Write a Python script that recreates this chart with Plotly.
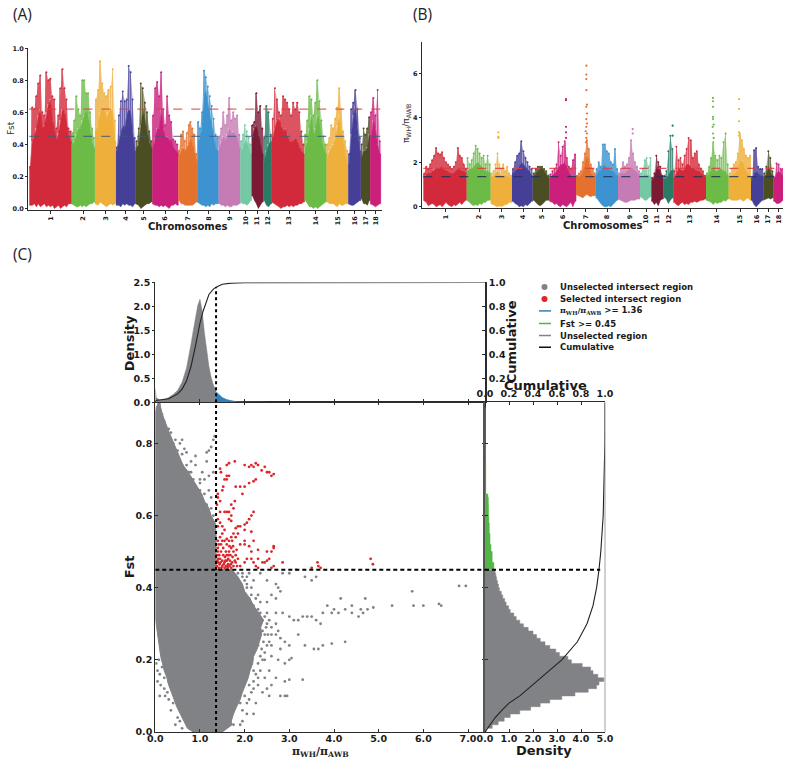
import plotly.graph_objects as go

chrom_names = ["1","2","3","4","5","6","7","8","9","10","11","12","13","14","15","16","17","18"]
chrom_colors = ["#d22a3b","#6cbb47","#eeb03a","#463f98","#4b4e22","#cb1f7c","#e4722e","#3c93cf","#c57cb4","#74c8a4",
                "#7a1a35","#2a7a66","#d22a3b","#6cbb47","#eeb03a","#463f98","#4b4e22","#cb1f7c"]

# Panel A
a_edges = [88,215,285,348,407,457,535,592,656,721,755,790,816,914,980,1045,1083,1111,1143]
a_ticks = [152,250,318,378,432,496,564,626,690,738,772,805,868,948,1014,1065,1097,1127]
a_peak = [
 [.26,.63,.62,.70,.78,.83,.60,.58,.85,.80,.81,.70,.68,.50,.58,.75,.87,.75,.68,.50,.48],
 [.47,.55,.70,.62,.58,.80,.80,.72,.72,.60,.50,.44],
 [.68,.74,.92,.78,.72,.70,.74,.76,.87,.55],
 [.38,.58,.67,.73,.67,.68,.89,.85,.68,.44],
 [.42,.50,.78,.75,.66,.60,.48,.42],
 [.58,.75,.79,.70,.85,.62,.52,.70,.58,.54,.43,.42,.40],
 [.36,.46,.48,.42,.47,.52,.54,.50,.46,.34],
 [.54,.50,.60,.86,.82,.76,.70,.64,.56,.46,.44],
 [.45,.50,.60,.52,.58,.69,.55,.60,.56,.58,.46],
 [.42,.46,.52,.48,.44,.40],
 [.52,.54,.72,.60,.64,.50],
 [.44,.64,.60,.46],
 [.56,.75,.68,.60,.58,.70,.68,.66,.62,.58,.66,.62,.66,.60,.48,.40],
 [.46,.55,.70,.68,.58,.66,.80,.67,.55,.45,.40],
 [.40,.44,.52,.50,.56,.63,.75,.62,.48,.42,.36],
 [.34,.62,.66,.74,.62,.44],
 [.40,.50,.46,.50,.57],
 [.60,.69,.58,.74,.42]]
a_solid = [
 [.25,.42,.45,.50,.58,.62,.50,.52,.60,.65,.68,.55,.50,.42,.47,.55,.62,.60,.52,.46,.42],
 [.40,.42,.46,.50,.50,.55,.58,.62,.58,.50,.42,.38],
 [.48,.52,.60,.62,.62,.56,.60,.62,.60,.42],
 [.36,.42,.47,.52,.50,.58,.62,.60,.48,.36],
 [.38,.40,.52,.62,.55,.48,.42,.38],
 [.38,.44,.50,.50,.62,.50,.44,.45,.42,.44,.38,.37,.35],
 [.32,.36,.38,.36,.38,.40,.44,.40,.36,.30],
 [.42,.44,.52,.70,.74,.66,.58,.52,.46,.38,.36],
 [.38,.42,.45,.42,.46,.50,.46,.48,.46,.45,.38],
 [.36,.38,.42,.42,.38,.34],
 [.45,.50,.52,.46,.42,.34],
 [.30,.36,.40,.42],
 [.44,.50,.55,.56,.52,.48,.50,.46,.42,.42,.42,.44,.42,.38,.36,.34],
 [.38,.42,.50,.58,.45,.50,.58,.55,.42,.38,.34],
 [.32,.36,.38,.40,.44,.52,.58,.50,.42,.35,.28],
 [.28,.46,.58,.64,.52,.36],
 [.32,.36,.36,.38,.46],
 [.44,.55,.50,.40,.34]]
a_low = [
 [.02,.02,.03,.01,.03,.01,.02,.03,.01,.02,.01,.02,.00,.01,.02,.00,.01,.02,.01,.03,.03],
 [.03,.02,.01,.01,.02,.01,.02,.01,.02,.03,.03,.04],
 [.03,.02,.04,.03,.02,.01,.02,.03,.02,.03],
 [.02,.02,.01,.03,.02,.03,.02,.02,.01,.03],
 [.03,.02,.00,.01,.02,.03,.03,.04],
 [.03,.02,.02,.01,.02,.01,.02,.01,.00,.02,.02,.03,.02],
 [.05,.03,.03,.02,.02,.02,.02,.02,.03,.04],
 [.04,.03,.02,.02,.01,.02,.01,.03,.02,.03,.03],
 [.03,.02,.02,.01,.02,.01,.01,.02,.02,.02,.03],
 [.04,.03,.03,.02,.03,.05],
 [.08,.05,.03,.00,.02,.04],
 [.05,.02,.01,.03],
 [.04,.03,.02,.01,.00,.01,.01,.02,.01,.02,.01,.02,.02,.03,.03,.04],
 [.05,.03,.01,.01,.00,.01,.00,.01,.02,.03,.04],
 [.04,.03,.03,.03,.02,.01,.03,.02,.02,.03,.03],
 [.03,.02,.02,.03,.04,.05],
 [.06,.03,.03,.02,.05],
 [.03,.02,.01,.02,.03]]

# Panel B
b_edges = [70,200,272,336,398,448,528,587,654,720,754,790,820,918,986,1053,1090,1120,1152]
b_ticks = [137,238,305,370,426,489,557,622,689,738,772,806,871,950,1020,1072,1105,1136]
b_peak = [
 [1.5,1.8,1.7,1.9,2.1,2.3,2.65,2.4,2.35,2.45,2.2,2.0,1.9,1.8,1.7,1.8,2.0,2.65,2.3,2.2,1.9,1.7],
 [2.2,1.9,2.1,2.4,2.75,2.6,2.4,2.2,2.3,1.9,2.3,1.9],
 [1.5,1.6,1.9,2.4,1.9,1.7,1.9,1.6,1.8,1.5,1.4],
 [1.7,2.0,2.3,2.4,2.95,2.5,2.2,2.0,1.8,1.7],
 [1.5,1.7,1.8,1.8,1.8,1.7,1.6,1.4],
 [1.45,1.6,1.7,1.9,2.9,2.3,2.7,2.95,2.2,1.8,1.7,2.1,2.35],
 [1.4,1.5,1.6,2.0,2.4,3.0,2.6,1.9,1.7,1.5],
 [1.7,2.0,1.8,2.8,2.8,2.5,2.4,2.0,1.9,2.6,1.7],
 [1.5,1.7,2.0,1.8,1.9,2.2,3.0,2.4,2.0,1.8,1.6],
 [1.5,1.7,2.1,2.2,1.8,2.2],
 [1.3,1.5,2.3,2.0,1.8,1.4],
 [1.4,1.6,2.5,3.2,2.6],
 [1.6,2.7,2.1,2.2,1.9,2.3,2.6,3.1,3.0,2.2,2.4,2.5,1.9,1.7,1.6,1.4],
 [1.5,1.8,2.2,2.9,2.3,2.1,2.3,2.2,2.9,3.3,1.9],
 [1.5,1.7,1.9,2.0,2.4,3.3,3.0,2.6,2.3,2.2,2.3],
 [1.3,2.55,2.65,1.8,1.7,1.7],
 [1.5,1.8,2.5,2.2,1.6],
 [1.3,1.95,1.9,1.7,1.7]]
b_solid = [
 [1.3,1.45,1.5,1.5,1.6,1.7,1.75,1.7,1.75,1.8,1.7,1.6,1.6,1.5,1.5,1.5,1.6,1.7,1.7,1.6,1.6,1.5],
 [1.6,1.7,1.7,1.8,1.9,2.0,1.9,1.8,1.7,1.6,1.6,1.5],
 [1.35,1.4,1.5,1.6,1.5,1.4,1.4,1.4,1.4,1.3,1.3],
 [1.5,1.6,1.7,1.8,2.0,1.9,1.8,1.7,1.6,1.4],
 [1.35,1.5,1.6,1.7,1.75,1.6,1.4,1.3],
 [1.3,1.4,1.5,1.6,1.75,1.9,1.9,2.0,1.8,1.6,1.4,1.3,1.3],
 [1.35,1.35,1.4,1.6,1.9,2.4,2.0,1.6,1.4,1.35],
 [1.4,1.6,1.65,1.8,1.9,1.7,1.7,1.65,1.6,1.5,1.4],
 [1.4,1.5,1.5,1.5,1.6,1.7,1.8,1.7,1.6,1.5,1.4],
 [1.35,1.4,1.45,1.45,1.4,1.35],
 [1.2,1.35,1.7,1.85,1.6,1.3],
 [1.25,1.3,1.4,1.6,1.7],
 [1.3,1.5,1.7,1.7,1.6,1.7,1.9,1.9,1.8,1.7,1.7,1.6,1.6,1.5,1.4,1.3],
 [1.4,1.5,1.65,1.8,1.6,1.6,1.7,1.7,1.6,1.6,1.4],
 [1.35,1.4,1.45,1.5,1.7,2.0,2.1,1.8,1.6,1.5,1.4],
 [1.2,1.5,1.55,1.5,1.4,1.4],
 [1.35,1.45,1.8,1.6,1.4],
 [1.25,1.5,1.6,1.5,1.4]]
b_low = [
 [.3,.2,.05,.1,.15,.1,.0,.05,.1,.0,.1,.2,.1,.05,.0,.1,.05,.1,.2,.1,.2,.3],
 [.3,.2,.1,.05,.1,.05,.15,.1,.2,.2,.3,.3],
 [.15,.1,.05,.0,.05,.0,.05,.1,.1,.2,.2],
 [.25,.15,.1,.0,.05,.0,.1,.05,.15,.25],
 [.3,.2,.1,.05,.1,.2,.3,.3],
 [.25,.2,.1,.15,.05,.0,.1,.05,.0,.1,.2,.0,.25],
 [.55,.5,.45,.4,.5,.55,.5,.45,.5,.5],
 [.4,.3,.15,.05,.0,.0,.05,.0,.1,.2,.3],
 [.35,.3,.25,.2,.2,.25,.3,.3,.3,.35,.35],
 [.45,.4,.3,.3,.4,.45],
 [.25,.1,.2,.05,.3,.35],
 [.45,.35,.15,.3,.4],
 [.2,.1,.05,.15,.2,.1,.15,.1,.2,.2,.25,.2,.25,.3,.3,.35],
 [.3,.25,.2,.1,.2,.15,.2,.2,.3,.25,.35],
 [.35,.3,.3,.3,.3,.35,.3,.25,.35,.4,.3],
 [.3,.1,.0,.1,.2,.3],
 [.3,.35,.4,.35,.4],
 [.25,.15,.15,.2,.3]]
# chromosome index, position, value of isolated extreme windows in panel B
b_outliers = [(2,295,3.35),(2,295,3.15),(2,295,3.1),(5,498,4.85),(5,498,4.8),(5,498,3.6),(5,498,3.35),(5,498,3.1),
 (6,559,6.35),(6,559,5.95),(6,559,5.75),(6,559,5.25),(6,561,4.6),(6,559,4.5),(6,561,4.2),(6,559,3.95),(6,561,3.75),
 (6,559,3.6),(6,557,3.4),(6,561,3.3),(6,559,3.1),(6,558,2.9),(8,698,3.5),(8,698,3.3),(11,818,3.65),(11,818,3.2),
 (13,939,4.9),(13,939,4.75),(13,939,4.5),(13,939,4.05),(13,939,3.95),(13,941,3.7),(13,938,3.6),(13,939,3.3),
 (13,941,3.1),(14,1017,4.85),(14,1017,4.4),(14,1017,3.85),(14,1017,3.35),(14,1017,3.2)]

# Panel C, top density
pi_grid_gray = [0,.02,.1,.2,.3,.4,.5,.6,.7,.75,.8,.85,.9,.95,1.0,1.05,1.1,1.15,1.2,1.25,1.3,1.36]
pi_dens_gray = [.28,.1,.04,.06,.1,.16,.25,.42,.72,.95,1.22,1.5,1.78,2.02,2.15,1.9,1.45,1.1,.75,.52,.36,.24]
pi_grid_blue = [1.36,1.4,1.5,1.6,1.7,1.8,2.0,2.5]
pi_dens_blue = [.22,.18,.1,.055,.03,.015,.006,0]
pi_cdf_x = [0,.1,.3,.5,.6,.7,.8,.9,1.0,1.07,1.2,1.3,1.36,1.5,1.7,2.0,3.0,7.38]
pi_cdf_y = [.015,.02,.03,.07,.11,.18,.30,.47,.66,.76,.90,.945,.96,.985,.995,.999,1,1]

# Panel C, right density
fst_grid_gray = [0,.01,.02,.03,.04,.05,.06,.07,.08,.09,.10,.11,.12,.13,.14,.15,.16,.17,.18,.19,.20,.21,.22,.23,.24,.25,.26,.27,.28,.29,.30,.31,.32,.33,.34,.35,.36,.37,.38,.39,.40,.41,.42,.43,.44,.45]
fst_dens_gray = [.05,.3,.55,.8,1.05,1.45,1.9,2.3,2.7,3.2,3.75,4.3,4.65,4.75,4.95,4.7,4.5,4.4,4.05,3.6,3.45,3.1,2.95,2.7,2.5,2.3,2.15,2.0,1.8,1.6,1.45,1.3,1.2,1.05,.98,.88,.82,.74,.68,.6,.56,.52,.48,.45,.42,.38]
fst_grid_green = [.45,.47,.5,.52,.55,.58,.6,.63,.65,.66,.7,.75,.8,.9]
fst_dens_green = [.37,.3,.25,.21,.18,.16,.15,.14,.12,.03,.03,.02,.01,.005]
fst_cdf_x = [0,.02,.04,.06,.08,.1,.12,.15,.2,.25,.3,.35,.4,.45,.5,.6,.7,.8,.914]
fst_cdf_y = [0,.04,.085,.14,.2,.29,.36,.46,.64,.77,.85,.9,.93,.95,.965,.985,.995,.999,1]

# Panel C, joint distribution extent by Fst level
cloud_fst = [0,.01,.02,.03,.05,.07,.09,.11,.13,.15,.17,.19,.21,.23,.25,.27,.29,.31,.33,.35,.37,.39,.41,.43,.45,.451,.5,.55,.58,.6,.62,.64,.66,.68,.7,.72,.74,.76,.78,.8,.82,.84,.86,.88,.9,.914]
cloud_lo = [.85,.72,.68,.64,.56,.48,.42,.36,.3,.26,.2,.16,.12,.09,.07,.05,.03,.01,0,0,0,0,0,0,0,0,0,0,0,0,0,0,0,0,0,0,0,0,0,0,0,0,0,0,.02,.08]
cloud_hi = [1.5,1.62,1.72,1.7,1.75,1.82,1.9,1.95,2.02,2.08,2.12,2.18,2.2,2.28,2.33,2.38,2.36,2.42,2.32,2.2,2.12,2.0,1.95,1.85,1.72,1.36,1.36,1.36,1.34,1.25,1.2,1.1,1.04,.94,.84,.74,.62,.55,.48,.42,.35,.28,.22,.16,.12,.1]

gray_pts = [(.25,.82),(.3,.79),(.55,.80),(.6,.81),(.65,.785),(.7,.775),(.9,.765),(1.15,.775),(1.25,.79),(1.3,.81),(1.33,.82),
 (1.2,.78),(.9,.74),(1.05,.72),(1.1,.70),(1.2,.71),(1.3,.72),(1.0,.67),(.85,.70),(.75,.72),(.6,.74),(.95,.63),(1.1,.66),(1.2,.67),(1.25,.65),
 (2.05,.43),(2.2,.42),(2.35,.44),(2.5,.42),(2.7,.41),(2.85,.44),(3.0,.44),(3.15,.45),(3.35,.43),(3.5,.42),(3.6,.43),(2.6,.38),(2.75,.40),
 (2.8,.39),(2.7,.37),(2.5,.36),(2.3,.38),(2.1,.37),(2.3,.34),(2.5,.33),(2.7,.33),(2.85,.33),(3.0,.32),(3.1,.31),(3.2,.31),(3.3,.32),(3.4,.32),
 (3.5,.32),(3.6,.31),(3.7,.30),(3.75,.33),(3.85,.35),(3.95,.33),(4.0,.34),(4.1,.33),(4.15,.37),(4.25,.34),(4.4,.35),(4.4,.33),(4.55,.32),
 (4.6,.34),(4.65,.33),(4.7,.37),(4.75,.34),(4.88,.345),(5.3,.35),(5.75,.39),(5.78,.35),(6.0,.35),(6.35,.355),(6.4,.35),(6.8,.405),(6.95,.405),
 (2.55,.25),(2.7,.27),(2.8,.26),(2.9,.25),(3.0,.24),(3.2,.27),(3.35,.24),(3.55,.23),(3.65,.23),(3.75,.24),(3.95,.245),(4.25,.25),(2.75,.2),
 (2.9,.19),(3.0,.2),(3.05,.205),(2.8,.23),(2.6,.21),(2.55,.17),(2.7,.15),(2.9,.14),(3.0,.145),(3.3,.145),(2.5,.12),(2.6,.13),(2.4,.11),
 (2.55,.1),(2.8,.1),(2.9,.1),(2.95,.1),(2.3,.13),(2.2,.12),(2.1,.09),(2.2,.05),(1.95,.03),(1.9,.02),(1.75,.02),(.45,.02),(.05,.17),(.1,.16),
 (.05,.14),(.1,.1),(.2,.12),(.3,.09),(.3,.14),(.15,.18),(.2,.15),(2.5,.3),(2.6,.29),(2.7,.3),(2.75,.28),(2.6,.27),(2.45,.27),(2.35,.28),
 (2.15,.4),(2.05,.4),(2.0,.42),(1.95,.44),(2.1,.44),(1.85,.44),(2.35,.36),(2.2,.35),(2.4,.31),(2.55,.31),(2.6,.24),(2.45,.22),(2.35,.17),
 (2.4,.2),(2.45,.15),(2.25,.08),(2.05,.05),(1.7,.44),(1.6,.45),(1.15,.75),(1.0,.7),(.8,.75),(.5,.78),(.4,.80),(.35,.83),(.2,.86),(.15,.88),(.08,.91),
 (2.48,.29),(2.52,.27),(2.42,.25),(2.5,.24),(2.38,.23),(2.45,.2),(2.3,.19),(2.35,.21),(2.25,.16),(2.3,.15),(2.2,.14),(2.15,.11),(2.05,.08),
 (1.95,.06),(1.9,.08),(2.0,.1),(2.1,.13),(2.2,.17),(2.3,.24),(2.4,.28),(2.45,.32),(2.35,.33),(2.25,.37),(2.15,.38),(2.05,.41),(1.95,.43),
 (.95,.65),(1.05,.64),(1.15,.63),(1.25,.62),(1.3,.60),(1.0,.69),(.9,.68),(.8,.72),(.7,.74),(.6,.77),(.45,.81),(.3,.84),(.75,.7),(1.1,.61),
 (.02,.19),(.08,.2),(.12,.13),(.22,.1),(.27,.11),(.35,.06),(.4,.08),(.5,.04),(.55,.03),(.6,.01),(1.4,.44),(1.55,.445),(1.75,.43)]

red_pts = [(1.47,.72),(1.45,.73),(1.6,.74),(1.65,.745),(1.78,.75),(2.0,.74),(2.1,.735),(2.15,.74),(2.2,.735),(2.25,.745),(2.3,.74),(2.45,.735),
 (2.5,.72),(2.55,.72),(2.6,.71),(2.65,.715),(2.38,.725),(2.25,.70),(2.2,.695),(2.1,.69),(2.0,.68),(1.9,.68),(1.8,.68),(1.95,.66),(1.6,.70),
 (1.55,.70),(1.6,.71),(1.65,.71),(1.52,.68),(1.5,.67),(1.4,.66),(1.4,.65),(1.45,.64),(1.38,.63),(1.7,.63),(1.78,.64),(1.65,.61),(1.75,.62),
 (1.6,.61),(1.45,.61),(1.55,.61),(2.2,.61),(2.15,.6),(2.1,.59),(2.05,.58),(1.7,.6),(1.65,.59),(1.7,.585),(1.4,.59),(1.45,.58),(1.5,.57),
 (1.55,.56),(1.4,.57),(1.5,.55),(1.45,.54),(1.4,.53),(1.9,.57),(2.0,.575),(1.85,.57),(1.8,.565),(1.75,.55),(1.7,.54),(1.65,.53),(1.8,.54),
 (1.85,.55),(1.9,.52),(2.0,.56),(2.15,.555),(2.0,.53),(2.0,.52),(2.1,.515),(2.2,.53),(1.6,.52),(1.55,.53),(2.65,.515),(2.65,.51),(2.5,.50),
 (2.6,.50),(2.55,.48),(2.3,.505),(2.15,.50),(2.85,.47),(2.6,.455),(2.5,.475),(2.3,.48),(2.2,.47),(2.15,.48),(2.05,.48),(2.0,.47),(1.9,.46),
 (1.8,.47),(2.4,.47),(2.45,.47),(2.25,.46),(2.3,.455),(2.65,.46),(3.5,.455),(3.63,.47),(3.65,.46),(3.7,.455),(4.82,.48),(4.87,.465),
 (1.38,.46),(1.4,.47),(1.38,.49),(1.4,.50),(1.42,.455),(1.44,.465),(1.45,.48),(1.43,.49),(1.47,.50),(1.48,.455),(1.5,.46),(1.5,.475),
 (1.52,.49),(1.52,.51),(1.55,.455),(1.55,.47),(1.56,.485),(1.58,.50),(1.58,.46),(1.6,.475),(1.6,.49),(1.62,.455),(1.63,.465),(1.63,.48),
 (1.65,.50),(1.66,.46),(1.67,.475),(1.68,.49),(1.7,.51),(1.7,.455),(1.72,.47),(1.73,.485),(1.75,.50),(1.75,.46),(1.78,.475),(1.8,.49),
 (1.82,.505),(1.83,.46),(1.85,.48),(1.4,.51),(1.42,.52),(1.47,.52),(1.5,.53),(1.53,.465),(1.46,.47),(1.41,.48),(1.39,.475),(1.57,.475),
 (1.61,.46),(1.64,.49),(1.69,.465),(1.74,.515),(1.6,.535),(1.66,.515),(1.72,.53)]

COL_GRAY = "#808285"
COL_RED = "#dc272d"
COL_BLUE = "#2f80b8"
COL_GREEN = "#53b447"
AXC = "#2b2b2b"

# calibrated mapping from target picture pixels onto paper fractions
def px(a): return (a - 8) / 775
def py(b): return 1 - (b - 6) / 752.5
def xdom(a, b): return [px(a), min(px(b), 1)]
def ydom(top, bot): return [py(bot), py(top)]

fig = go.Figure()

def manhattan(edges, peak, solid, low, xa, ya, streak_w):
    for i, color in enumerate(chrom_colors):
        n = len(solid[i])
        step = (edges[i + 1] - edges[i]) / n
        xs = [edges[i] + step * (k + .5) for k in range(n)]
        xl, xr = edges[i], edges[i + 1]
        fig.add_trace(go.Scatter(x=[xl] + xs + [xr, xr] + xs[::-1] + [xl], y=[peak[i][0]] + peak[i] + [peak[i][-1], solid[i][-1]] + solid[i][::-1] + [solid[i][0]],
                                 mode="lines", fill="toself", fillcolor=color, opacity=.5, line=dict(color=color, width=0),
                                 xaxis=xa, yaxis=ya, showlegend=False, hoverinfo="skip"))
        fig.add_trace(go.Bar(x=xs, y=[p - s for p, s in zip(peak[i], solid[i])], base=solid[i], width=streak_w,
                             marker=dict(color=color, line_width=0), opacity=.6, xaxis=xa, yaxis=ya, showlegend=False))
        fig.add_trace(go.Scatter(x=xs, y=peak[i], mode="markers", marker=dict(color=color, size=2),
                                 xaxis=xa, yaxis=ya, showlegend=False, hoverinfo="skip"))
        fig.add_trace(go.Scatter(x=[xl] + xs + [xr, xr] + xs[::-1] + [xl], y=[solid[i][0]] + solid[i] + [solid[i][-1], low[i][-1]] + low[i][::-1] + [low[i][0]],
                                 mode="lines", fill="toself", fillcolor=color, line=dict(color=color, width=.6),
                                 xaxis=xa, yaxis=ya, showlegend=False, hoverinfo="skip"))

manhattan(a_edges, a_peak, a_solid, a_low, "x", "y", 2.0)
manhattan(b_edges, b_peak, b_solid, b_low, "x2", "y2", 2.0)
fig.add_trace(go.Scatter(x=[p[1] for p in b_outliers], y=[p[2] for p in b_outliers], mode="markers",
                         marker=dict(color=[chrom_colors[p[0]] for p in b_outliers], size=2.2),
                         xaxis="x2", yaxis="y2", showlegend=False))

# main scatter
fig.add_trace(go.Scatter(x=cloud_hi + cloud_lo[::-1], y=cloud_fst + cloud_fst[::-1], mode="lines", fill="toself",
                         fillcolor=COL_GRAY, line=dict(color=COL_GRAY, width=1), xaxis="x3", yaxis="y3", showlegend=False))
fig.add_trace(go.Scatter(x=[p[0] for p in gray_pts], y=[p[1] for p in gray_pts], mode="markers",
                         marker=dict(color=COL_GRAY, size=2.8), xaxis="x3", yaxis="y3", showlegend=False))
fig.add_trace(go.Scatter(x=[p[0] for p in red_pts], y=[p[1] for p in red_pts], mode="markers",
                         marker=dict(color=COL_RED, size=2.8), xaxis="x3", yaxis="y3", showlegend=False))

# top density
fig.add_trace(go.Scatter(x=pi_grid_gray, y=pi_dens_gray, fill="tozeroy", mode="lines", fillcolor=COL_GRAY,
                         line=dict(color=COL_GRAY, width=.5), xaxis="x4", yaxis="y4", showlegend=False))
fig.add_trace(go.Scatter(x=pi_grid_blue, y=pi_dens_blue, fill="tozeroy", mode="lines", fillcolor=COL_BLUE,
                         line=dict(color=COL_BLUE, width=.5), xaxis="x4", yaxis="y4", showlegend=False))
fig.add_trace(go.Scatter(x=pi_cdf_x, y=pi_cdf_y, mode="lines", line=dict(color="#222", width=1.1),
                         xaxis="x4", yaxis="y5", showlegend=False))

# right density
fig.add_trace(go.Scatter(x=fst_dens_gray, y=fst_grid_gray, fill="tozerox", mode="lines", fillcolor=COL_GRAY,
                         line=dict(color=COL_GRAY, width=.5, shape="vh"), xaxis="x5", yaxis="y6", showlegend=False))
fig.add_trace(go.Scatter(x=fst_dens_green, y=fst_grid_green, fill="tozerox", mode="lines", fillcolor=COL_GREEN,
                         line=dict(color=COL_GREEN, width=.5, shape="vh"), xaxis="x5", yaxis="y6", showlegend=False))
fig.add_trace(go.Scatter(x=fst_cdf_y, y=fst_cdf_x, mode="lines", line=dict(color="#222", width=1.1),
                         xaxis="x6", yaxis="y6", showlegend=False))

BOLD = dict(family="DejaVu Sans", weight="bold", color="#1a1a1a")
small = dict(BOLD, size=6.5)
med = dict(BOLD, size=9.5)

def man_x(dom, rng, ticks, anchor):
    return dict(domain=dom, range=rng, tickmode="array", tickvals=ticks, ticktext=chrom_names, tickangle=-90, anchor=anchor,
                tickfont=small, ticks="outside", ticklen=3, tickwidth=.8, tickcolor=AXC, showline=True,
                linecolor=AXC, linewidth=1.2, showgrid=False, zeroline=False, fixedrange=True)

def man_y(dom, rng, vals, fmt, anchor):
    return dict(domain=dom, range=rng, tickmode="array", tickvals=vals, tickformat=fmt, tickfont=small, ticks="outside", anchor=anchor,
                ticklen=2, tickwidth=.8, tickcolor=AXC, showline=True, linecolor=AXC, linewidth=1.2,
                showgrid=False, zeroline=False, fixedrange=True)

main_line = dict(showline=True, linecolor=AXC, linewidth=1.3, showgrid=False, zeroline=False, fixedrange=True,
                 tickcolor=AXC, tickwidth=.8, ticklen=3, ticks="inside", tickformat=".1f", tickfont=med)

pi_ticks = [0, 1, 2, 3, 4, 5, 6, 7]
top_dom, mid_dom, right_dom = ydom(282.3, 402), ydom(402, 731.5), xdom(485, 605)
left_dom = xdom(155.3, 485)

fig.update_layout(
    width=792, height=764, autosize=False, margin=dict(l=0, r=0, t=0, b=0), paper_bgcolor="white", plot_bgcolor="rgba(0,0,0,0)",
    barmode="overlay", bargap=0, showlegend=False,
    xaxis=man_x(xdom(28.3, 381.5), [85, 1145], a_ticks, "y"),
    yaxis=man_y(ydom(48.3, 209.5), [-.0075, 1.0], [0, .2, .4, .6, .8, 1.0], ".1f", "x"),
    xaxis2=man_x(xdom(422, 783), [66, 1149], b_ticks, "y2"),
    yaxis2=man_y(ydom(41.7, 208), [-.06, 7.43], [0, 2, 4, 6], "d", "x2"),
    xaxis3=dict(main_line, domain=left_dom, range=[0, 7.38], tickmode="array", tickvals=pi_ticks, anchor="y3", mirror="ticks", ticklabelstandoff=-3),
    yaxis3=dict(main_line, domain=mid_dom, range=[0, .914], tickmode="array", tickvals=[0, .2, .4, .6, .8], anchor="x3", mirror="ticks"),
    xaxis4=dict(main_line, domain=left_dom, range=[0, 7.38], tickmode="array", tickvals=pi_ticks, showticklabels=False, anchor="y4"),
    yaxis4=dict(main_line, domain=top_dom, range=[0, 2.5], tickmode="array", tickvals=[0, .5, 1, 1.5, 2, 2.5], anchor="x4", ticks="outside", ticklen=2),
    yaxis5=dict(main_line, domain=top_dom, range=[0, 1], tickmode="array", tickvals=[.2, .4, .6, .8, 1.0], anchor="x4",
                overlaying="y4", side="right", linewidth=1.6),
    xaxis5=dict(main_line, domain=right_dom, range=[0, 5], tickmode="array", tickvals=[0, 1, 2, 3, 4, 5], anchor="y6", ticklabelstandoff=-3),
    yaxis6=dict(main_line, domain=mid_dom, range=[0, .914], tickmode="array", tickvals=[.2, .4, .6, .8], showticklabels=False,
                anchor="x5", linewidth=2.2, linecolor="#555"),
    xaxis6=dict(main_line, domain=right_dom, range=[0, 1], tickmode="array", tickvals=[0, .2, .4, .6, .8, 1], anchor="y6",
                overlaying="x5", side="top"),
)

shapes = []
def hline(y, x0, x1, xr, yr, color, width=1.3, dash="dash"):
    shapes.append(dict(type="line", xref=xr, yref=yr, x0=x0, x1=x1, y0=y, y1=y, line=dict(color=color, width=width, dash=dash)))
def vline(x, y0, y1, xr, yr):
    shapes.append(dict(type="line", xref=xr, yref=yr, x0=x, x1=x, y0=y0, y1=y1, line=dict(color="black", width=2, dash="3px,3px")))

hline(.62, 88, 1143, "x", "y", "rgba(226,60,60,.8)")
hline(.45, 88, 1143, "x", "y", "rgba(60,90,130,.75)")
hline(1.73, 70, 1149, "x2", "y2", "rgba(226,60,60,.85)")
hline(1.36, 70, 1149, "x2", "y2", "rgba(30,50,90,.85)")
vline(1.36, 0, .914, "x3", "y3")
vline(1.36, 0, 2.4, "x4", "y4")
shapes.append(dict(type="line", xref="x3", yref="y3", x0=0, x1=7.38, y0=.45, y1=.45, line=dict(color="black", width=2, dash="4px,3px")))
shapes.append(dict(type="line", xref="x5", yref="y6", x0=0, x1=4.8, y0=.45, y1=.45, line=dict(color="black", width=2, dash="4px,3px")))
# right border of the right panel
shapes.append(dict(type="line", xref="paper", yref="y6", x0=px(605), x1=px(605), y0=0, y1=.914, line=dict(color="#888", width=.8)))

legend_colors = [COL_GRAY, COL_RED, COL_BLUE, COL_GREEN, COL_GRAY, "#111111"]
legend_rows = [286.7, 298.7, 310.7, 323.3, 335.3, 347]
for k, (c, row) in enumerate(zip(legend_colors, legend_rows)):
    if k < 2:
        shapes.append(dict(type="circle", xref="paper", yref="paper", x0=px(541.5), x1=px(547.5), y0=py(row+3), y1=py(row-3),
                           fillcolor=c, line_width=0))
    else:
        shapes.append(dict(type="line", xref="paper", yref="paper", x0=px(539), x1=px(551), y0=py(row), y1=py(row), line=dict(color=c, width=1.5)))
fig.update_layout(shapes=shapes)

def txt(x, y, s, font, angle=0, anchor="center"):
    fig.add_annotation(x=px(x), y=py(y), xref="paper", yref="paper", text=s, showarrow=False, font=font, textangle=angle,
                       xanchor=anchor, yanchor="middle", borderpad=0, borderwidth=0)

panel = dict(family="Open Sans", size=15.5, color="#222")
txt(13, 14, "(A)", panel, anchor="left")
txt(413, 14, "(B)", panel, anchor="left")
txt(13, 254, "(C)", panel, anchor="left")
txt(11, 128, "Fst", dict(family="DejaVu Sans", size=9, color="#333"), angle=-90)
txt(188, 226, "Chromosomes", dict(BOLD, size=10))
txt(406, 124, "π<sub>WH</sub>/π<sub>AWB</sub>", dict(family="DejaVu Sans", size=9, color="#333"), angle=-90)
txt(603, 225, "Chromosomes", dict(BOLD, size=10))
big = dict(BOLD, size=13)
txt(129, 343, "Density", big, angle=-90)
txt(511, 342, "Cumulative", big, angle=-90)
txt(545, 385, "Cumulative", big)
txt(544, 750, "Density", big)
txt(129, 567, "Fst", big, angle=-90)
txt(320, 752, "π<sub>WH</sub>/π<sub>AWB</sub>", dict(family="DejaVu Serif", size=11, color="#222", weight="bold"))
leg_font = dict(BOLD, size=8.5)
leg_text = ["Unselected intersect region", "Selected intersect region",
            "<span style='font-family:DejaVu Serif;font-size:8px'>π<sub>WH</sub>/π<sub>AWB</sub></span> >= 1.36",
            "Fst >= 0.45", "Unselected region", "Cumulative"]
for s, row in zip(leg_text, legend_rows):
    txt(559.5, row, s, leg_font, anchor="left")

fig.write_html("out.html", config={"displayModeBar": False, "responsive": False},
               post_script="document.body.style.margin='0';document.body.style.overflow='hidden';")
